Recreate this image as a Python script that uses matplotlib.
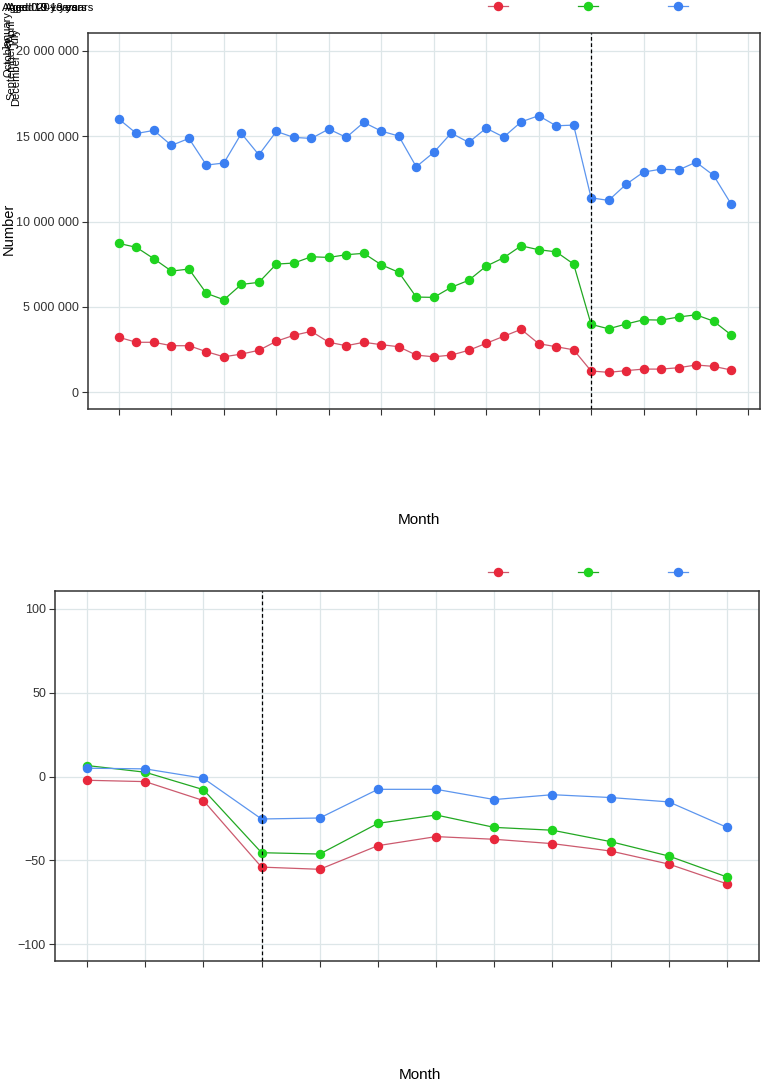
import matplotlib
matplotlib.use('Agg')
from matplotlib import pyplot as plt
from matplotlib.lines import Line2D
from matplotlib.ticker import FuncFormatter
import numpy as np

plt.rcParams['font.family'] = ['Liberation Sans Narrow', 'Liberation Sans', 'DejaVu Sans']

# monthly counts, Jan 2018 - Dec 2020 (millions)
age_0_9 = [3.22, 2.93, 2.93, 2.73, 2.73, 2.38, 2.08, 2.24, 2.46, 2.99, 3.34, 3.57,
           2.93, 2.73, 2.93, 2.79, 2.67, 2.18, 2.08, 2.18, 2.46, 2.87, 3.28, 3.69,
           2.85, 2.67, 2.49, 1.25, 1.17, 1.27, 1.36, 1.36, 1.44, 1.60, 1.52, 1.31]
age_10_19 = [8.72, 8.49, 7.82, 7.10, 7.22, 5.80, 5.42, 6.32, 6.44, 7.51, 7.57, 7.94,
             7.90, 8.06, 8.14, 7.47, 7.03, 5.58, 5.56, 6.15, 6.56, 7.39, 7.88, 8.58,
             8.35, 8.23, 7.51, 3.98, 3.72, 4.00, 4.25, 4.23, 4.41, 4.54, 4.17, 3.37]
age_20 = [16.00, 15.16, 15.34, 14.46, 14.87, 13.31, 13.43, 15.16, 13.91, 15.28, 14.93, 14.87,
          15.42, 14.93, 15.81, 15.30, 15.01, 13.21, 14.05, 15.18, 14.64, 15.47, 14.95, 15.84,
          16.20, 15.61, 15.65, 11.39, 11.24, 12.18, 12.90, 13.07, 13.02, 13.48, 12.71, 11.04]

# percent change, 2020 vs previous years
pct_0_9 = [-2.2, -3.0, -14.3, -54.0, -55.3, -41.2, -35.8, -37.4, -40.0, -44.4, -52.2, -64.0]
pct_10_19 = [6.6, 2.6, -7.8, -45.4, -46.2, -27.9, -22.9, -30.3, -32.0, -38.8, -47.4, -59.9]
pct_20 = [5.0, 4.6, -1.0, -25.3, -24.7, -7.6, -7.6, -13.7, -10.8, -12.5, -15.1, -30.3]

colors = ['#e8283c', '#1fd41f', '#3b7ff2']
line_colors = ['#cc5a6e', '#22a822', '#5c95ee']

fig = plt.figure(figsize=(7.66, 10.81), dpi=100)
ax1 = fig.add_axes([0.1149, 0.6216, 0.8773, 0.3478])
ax2 = fig.add_axes([0.0718, 0.1110, 0.9191, 0.3423])

x1 = np.arange(len(age_0_9))
x2 = np.arange(len(pct_0_9))

for ax, xs, series, vline in [(ax1, x1, [age_0_9, age_10_19, age_20], 27),
                              (ax2, x2, [pct_0_9, pct_10_19, pct_20], 3)]:
    for s, c, lc in zip(series, colors, line_colors):
        ax.plot(xs, s, color=lc, lw=0.9, zorder=3)
        ax.plot(xs, s, 'o', color=c, ms=5.8, zorder=4)
    ax.axvline(vline, color='black', ls=(0, (3, 2)), lw=0.9, zorder=5)
    ax.grid(True, color='#dde6e8', lw=0.9)
    ax.set_axisbelow(True)
    for sp in ax.spines.values():
        sp.set_color('#333333')
        sp.set_linewidth(1.1)
    ax.tick_params(length=4, pad=2.5, color='#333333', labelsize=9, labelcolor='#333333')
    ax.set_xlabel('Month', fontsize=11)

# top panel
ax1.set_xlim(-1.77, 36.66)
ax1.set_xticks(np.arange(0, 37, 3))
ax1.set_xticklabels([''] * 13)
ax1.set_ylim(-0.98, 21.04)
ax1.set_yticks([0, 5, 10, 15, 20])
ax1.yaxis.set_major_formatter(FuncFormatter(lambda v, p: '{:,.0f}'.format(v * 1e6).replace(',', ' ')))
ax1.set_ylabel('Number', fontsize=10.5)
ax1.yaxis.set_label_coords(-0.108, 0.48)
ax1.xaxis.set_label_coords(0.493, -0.277)

# bottom panel
ax2.set_xlim(-0.55, 11.55)
ax2.set_xticks(x2)
ax2.set_xticklabels([''] * 12)
ax2.set_ylim(-110, 110.7)
ax2.set_yticks([-100, -50, 0, 50, 100])
ax2.set_yticklabels(['\u2212100', '\u221250', '0', '50', '100'])
ax2.xaxis.set_label_coords(0.518, -0.289)

handles = [Line2D([0], [0], color=lc, lw=0.9, marker='o', ms=5.8,
                  markerfacecolor=c, markeredgecolor=c)
           for c, lc in zip(colors, line_colors)]
for ypos in [0.9935, 0.470]:
    fig.legend(handles, ['', '', ''], ncol=3, loc='center',
               bbox_to_anchor=(0.7717, ypos), frameon=False, fontsize=9,
               handlelength=1.55, handletextpad=0.5, columnspacing=5.15)

# overlapping labels bunched in the top-left corner
for i, t in enumerate(['Aged 0-9 years', 'Aged 10-19 years', 'Aged 20+ years']):
    fig.text(0.003 + i * 0.004, 0.997, t, fontsize=8, va='top', ha='left')
for i, t in enumerate(['January', 'April', 'July', 'October', 'September', 'December']):
    fig.text(0.004 + (i % 3) * 0.005, 0.99 - i * 0.008, t, fontsize=8, rotation=90,
             va='top', ha='left')

fig.savefig('out.png', dpi=100)
